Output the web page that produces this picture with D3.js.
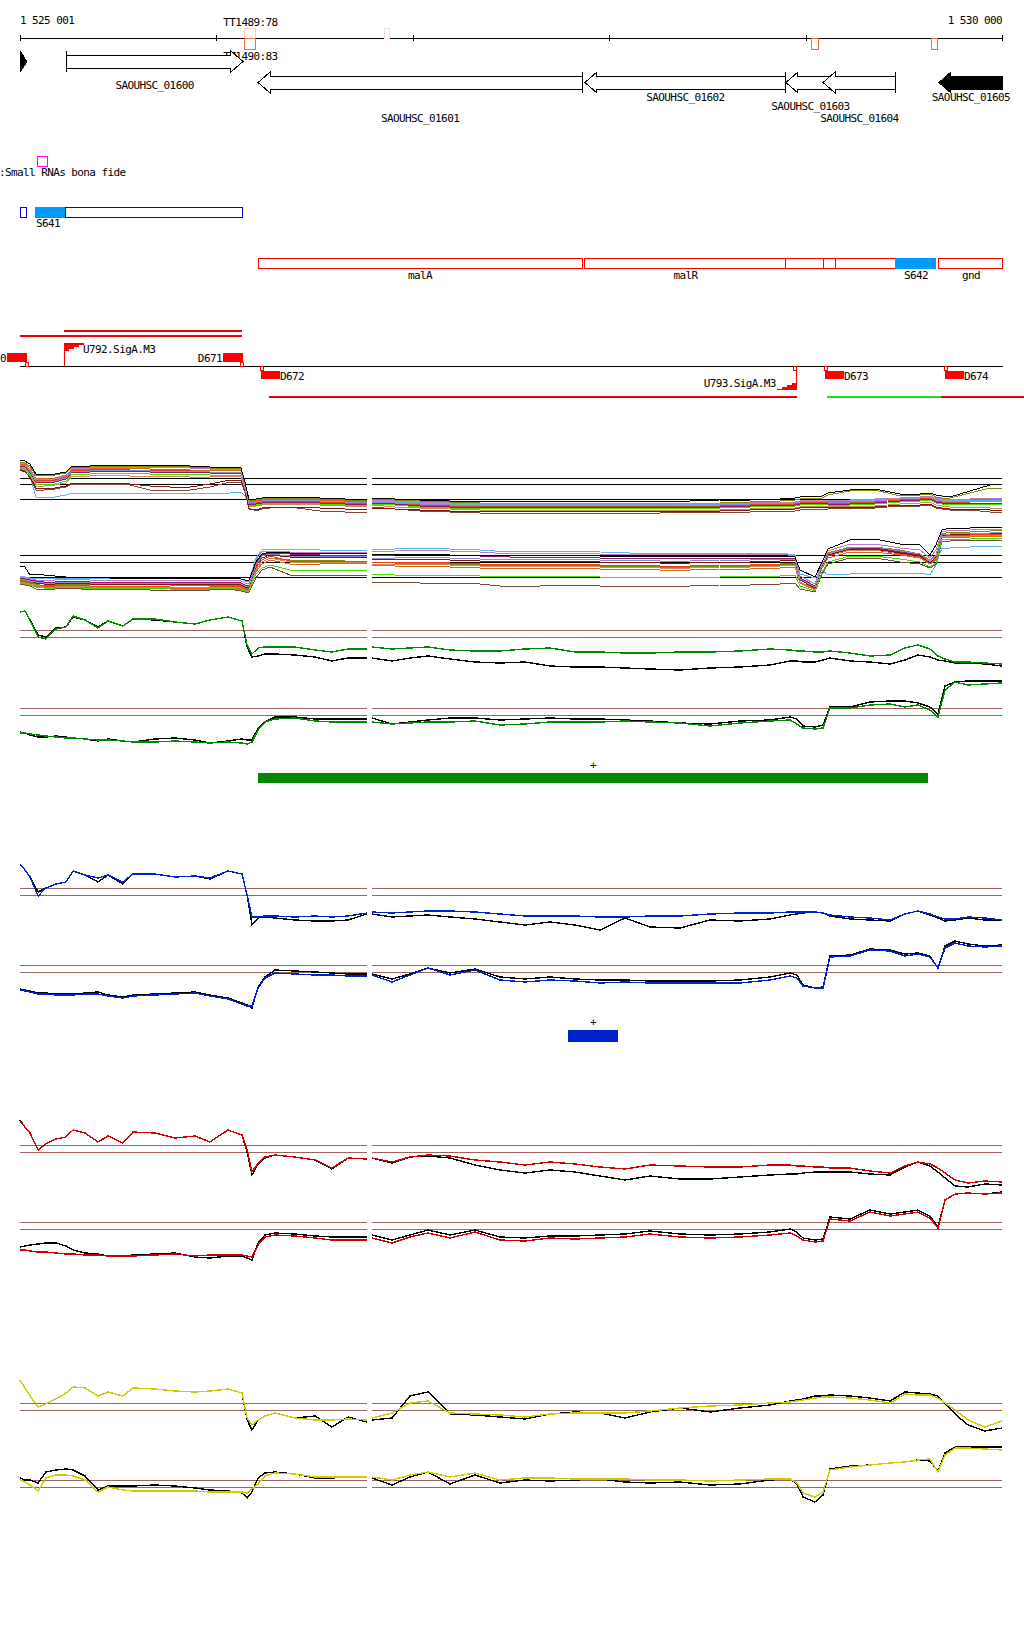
<!DOCTYPE html>
<html><head><meta charset="utf-8">
<script src="https://cdn.jsdelivr.net/npm/d3@7/dist/d3.min.js"></script>
<style>
html,body{margin:0;padding:0;background:#fff;}
svg{display:block;shape-rendering:crispEdges;}
text{font-family:"DejaVu Sans Mono","Liberation Mono",monospace;font-size:11px;letter-spacing:-0.6px;fill:#000;}
</style></head><body>
<svg id="chart" width="1024" height="1640"></svg>
<script>
// ---------------- DATA ----------------
const axisTicks = [1525001, 1526000, 1527000, 1528000, 1529000, 1530000];
const axisLabels = ["1 525 001", "1 530 000"];

const termStart = [1526146, 1526146, 1526859, 1529028, 1529643];
const termEnd   = [1526202, 1526202, 1526884, 1529068, 1529674];
const termSide  = ["up", "down", "up", "down", "down"];
const termScore = [78, 83, 70, 83, 83];
const termLabel = ["TT1489:78", "TT1490:83", "", "", ""];

const geneNames  = ["SAOUHSC_01600", "SAOUHSC_01601", "SAOUHSC_01602", "SAOUHSC_01603", "SAOUHSC_01604", "SAOUHSC_01605"];
const geneStart  = [1525236, 1526213, 1527877, 1528900, 1529089, 1529679];
const geneEnd    = [1526136, 1527862, 1528900, 1529150, 1529460, 1530005];
const geneStrand = ["+", "-", "-", "-", "-", "-"];
const geneRow    = [0, 1, 1, 1, 1, 1];
const geneLabelRow = [0, 2, 0, 1, 2, 0];
const geneFilled = [false, false, false, false, false, true];
const edgeGeneEnd = 1525036;

const srnaStart  = [1525006, 1525082, 1525235];
const srnaEnd    = [1525032, 1525225, 1526136];
const srnaName   = ["", "S641", ""];
const srnaFilled = [false, true, false];

const opStart  = [1526213, 1527877, 1528900, 1529089, 1529150, 1529460, 1529679];
const opEnd    = [1527862, 1528900, 1529089, 1529150, 1529460, 1529664, 1530005];
const opName   = ["malA", "malR", "", "", "", "S642", "gnd"];
const opFilled = [false, false, false, false, false, true, false];

const trStart = [1525225, 1525001, 1526268, 1529109, 1529689];
const trEnd   = [1526131, 1526131, 1528956, 1529689, 1530115];
const trLevel = [-2, -1, 1, 1, 1];
const trKind  = ["known", "known", "known", "novel", "known"];

const dNames  = ["D670", "D671", "D672", "D673", "D674"];
const dPos    = [1525037, 1526136, 1526223, 1529094, 1529705];
const dStrand = ["+", "+", "-", "-", "-"];

const uNames  = ["U792.SigA.M3", "U793.SigA.M3"];
const uPos    = [1525225, 1528956];
const uStrand = ["+", "-"];

const sectionBreak = 1526780;

const posMix = [1525001,1525026,1525052,1525082,1525123,1525179,1525235,1525266,1525357,1525459,1525561,1525663,1525765,1525866,1525968,1526070,1526126,1526146,1526167,1526202,1526233,1526274,1526375,1526528,1526655,1526767,
  1526793,1526910,1527037,1527190,1527343,1527495,1527648,1527801,1527954,1528106,1528259,1528412,1528564,1528717,1528870,1528946,1528972,1529048,1529084,1529114,1529226,1529354,1529481,1529583,1529633,1529664,1529694,1529735,1529837,1529939,1530000];

// multi-sample panel, upper strand (12 samples)
const mixTop01 = [60,59,56,46,46,46,48,54,54,55,55,54,55,54,53,53,52,38,20,21,22,23,23,22,21,20, 22,21,20,19,19,19,19,18,19,19,19,19,20,20,21,22,23,24,24,27,30,31,26,26,27,25,24,23,29,35,36];
const mixTop02 = [58,57,54,44,45,45,47,53,53,54,54,53,54,53,52,52,51,36,19,20,21,22,22,21,20,19, 21,20,19,18,17,16,17,16,17,17,16,17,17,18,19,20,21,22,22,25,29,30,24,25,26,23,22,22,27,32,32];
const mixTop03 = [56,55,50,42,42,42,45,51,51,52,52,51,51,50,50,50,49,34,18,19,20,21,21,20,19,18, 19,18,17,16,16,15,15,14,15,15,15,15,15,16,17,17,18,19,19,19,19,20,21,22,23,21,20,19,20,21,21];
const mixTop04 = [55,54,48,40,40,40,43,50,50,51,50,49,50,49,48,48,47,32,16,17,18,19,19,18,17,16, 18,17,15,14,14,13,14,13,14,14,14,14,14,15,16,16,17,18,18,17,17,18,20,21,22,19,18,17,18,19,19];
const mixTop05 = [54,53,47,38,38,38,41,48,48,49,49,48,48,48,47,47,46,30,15,16,17,18,18,17,16,15, 17,16,14,13,13,12,13,12,13,13,13,13,13,14,15,15,16,17,17,16,16,17,19,20,21,18,17,16,17,17,17];
const mixTop06 = [52,51,44,23,22,23,25,27,27,27,27,27,27,27,27,27,28,24,17,18,19,20,20,19,18,17, 19,18,17,16,16,16,16,15,16,16,16,16,16,17,18,18,19,20,20,20,20,20,22,23,24,21,20,20,20,20,20];
const mixTop07 = [51,49,42,30,30,31,33,36,36,36,35,30,30,30,33,38,38,28,12,9,11,12,13,9,8,8, 13,11,9,8,7,6,7,6,7,7,7,8,8,8,9,9,10,11,11,11,12,12,14,14,15,12,11,10,10,8,8];
const mixTop08 = [53,52,46,36,36,36,39,46,46,47,47,46,46,46,45,45,44,29,14,15,16,17,17,16,15,14, 16,15,13,12,12,11,12,11,12,12,12,12,12,13,14,14,15,16,16,15,15,16,18,19,20,17,16,15,16,16,16];
const mixTop09 = [57,56,52,40,41,41,44,52,52,53,53,52,53,52,51,51,50,33,20,21,22,23,23,22,21,20, 20,19,18,17,17,16,17,16,17,17,17,17,17,17,18,18,19,20,20,20,20,21,22,23,24,22,21,20,21,22,22];
const mixTop10 = [52,50,45,34,34,35,37,44,44,45,44,43,44,43,43,44,43,27,13,14,15,16,16,15,14,13, 15,13,12,11,10,10,10,9,10,10,10,10,10,11,12,12,13,14,14,14,14,14,16,17,18,15,14,13,13,12,12];
const mixTop11 = [50,48,43,32,32,32,34,37,37,37,36,34,33,33,36,40,40,29,11,10,12,13,13,12,11,10, 12,11,10,9,9,8,9,8,9,9,9,9,9,10,11,11,12,13,13,13,13,13,15,15,16,13,12,11,11,10,10];
const mixTop12 = [55,54,49,39,39,39,42,49,49,50,50,49,49,49,48,48,47,31,17,18,19,20,20,19,18,17, 18,17,16,15,15,14,15,14,15,15,15,15,15,16,17,17,18,19,19,18,18,19,21,22,23,20,19,18,19,19,19];

// multi-sample panel, lower strand
const mixBot01 = [34,33,25,26,25,24,23,23,23,22,22,22,22,22,22,22,21,20,20,38,46,48,47,47,47,46, 46,46,46,45,45,45,45,45,44,44,44,44,44,44,44,43,30,23,38,51,60,61,56,55,45,55,70,72,72,73,73];
const mixBot02 = [20,19,18,16,14,15,16,16,15,16,16,16,15,15,14,15,14,12,12,30,38,42,40,40,39,38, 38,37,37,36,35,34,35,35,34,34,33,33,34,34,35,36,20,12,35,47,53,53,50,46,40,45,66,68,68,69,70];
const mixBot03 = [18,17,16,14,13,12,14,14,12,13,13,12,12,12,12,13,11,10,10,28,36,40,36,36,37,36, 35,34,34,33,32,31,32,32,31,31,30,30,31,31,32,33,17,10,32,42,48,48,45,42,36,40,62,63,63,64,64];
const mixBot04 = [19,18,17,15,14,14,15,15,14,14,14,14,13,13,13,14,13,11,11,32,40,44,39,39,39,39, 38,38,38,37,36,35,36,36,35,35,34,34,35,35,36,37,18,11,33,44,50,50,46,43,37,41,63,65,65,66,66];
const mixBot05 = [22,21,20,19,18,18,19,19,18,18,18,18,18,18,18,18,17,15,15,36,45,47,46,45,45,45, 44,45,46,45,44,43,43,43,42,42,42,42,42,42,42,41,22,14,36,46,52,52,48,45,38,42,64,66,66,67,67];
const mixBot06 = [24,23,22,21,22,22,22,22,22,22,22,22,22,22,22,22,21,19,19,42,50,51,51,50,50,50, 50,51,52,51,50,48,49,49,48,47,47,47,47,47,47,45,26,22,30,25,26,27,27,27,25,35,52,52,53,54,54];
const mixBot07 = [16,15,14,11,10,11,12,12,10,11,11,10,10,10,10,11,9,8,8,22,30,33,25,24,25,25, 18,18,17,17,16,13,14,15,14,14,14,14,15,15,16,17,11,8,26,36,42,42,38,36,32,36,58,59,60,60,60];
const mixBot08 = [17,16,15,13,12,12,13,13,11,12,12,12,11,11,11,12,10,9,9,26,32,35,30,29,30,30, 26,25,25,25,24,23,24,24,23,23,23,23,23,24,24,25,14,9,28,38,44,44,41,38,33,37,60,61,61,62,62];
const mixBot09 = [23,22,21,20,20,20,21,21,20,20,20,20,20,20,20,20,19,17,17,40,48,49,48,48,48,48, 48,49,50,49,48,46,47,47,46,46,46,46,46,46,46,44,24,16,38,49,56,56,52,50,42,50,68,70,70,71,71];
const mixBot10 = [18,17,16,15,13,13,14,14,13,13,13,13,13,13,13,13,12,10,10,30,38,42,38,37,38,37, 36,36,36,35,34,33,34,34,33,33,32,32,33,33,34,35,18,10,33,45,50,50,47,44,38,42,63,64,64,65,65];
const mixBot11 = [21,20,19,17,16,16,17,17,16,16,16,16,16,16,16,16,15,13,13,34,42,45,43,43,43,42, 41,41,41,40,39,38,39,39,38,38,37,37,38,38,39,40,20,12,34,45,51,51,47,44,37,43,64,66,66,67,67];
const mixBot12 = [21,20,19,18,17,17,18,18,17,17,17,17,17,17,17,17,16,14,14,35,44,46,44,44,44,43, 42,42,43,42,41,40,41,41,40,40,39,39,40,40,41,41,21,13,35,46,52,53,49,46,39,44,65,66,67,67,68];

const mixTopThresholds = [42, 36, 21];
const mixBotThresholds = [45, 38, 23];

const posLines = [1525001,1525026,1525052,1525093,1525133,1525184,1525235,1525271,1525332,1525398,1525449,1525525,1525576,1525688,1525790,1525892,1525968,1526060,1526131,1526157,1526182,1526213,1526248,1526299,1526401,1526503,1526589,1526671,1526767,
  1526793,1526895,1526986,1527078,1527190,1527317,1527444,1527572,1527699,1527826,1527954,1528081,1528208,1528361,1528514,1528666,1528819,1528921,1528956,1528987,1529048,1529089,1529124,1529226,1529328,1529430,1529506,1529572,1529633,1529674,1529710,1529761,1529827,1529913,1530000];

const greenTopColor = [68,69,60,43,41,51,53,64,60,52,59,54,61,61,58,56,60,63,59,35,26,32,33,33,33,30,28,31,31, 33,31,32,33,30,29,29,31,32,28,28,27,27,28,28,29,31,30,29,29,28,28,29,27,24,25,32,35,31,24,21,18,18,17,16];
const greenTopBlack = [68,69,60,45,43,52,53,63,60,53,59,54,61,60,58,56,60,63,59,33,23,24,26,26,25,23,19,22,22, 22,19,22,24,21,18,17,18,14,13,13,12,11,10,12,13,15,19,19,18,18,20,22,19,18,16,20,25,23,20,19,17,17,16,14];
const greenBotColor = [27,27,26,25,24,23,22,22,21,20,20,19,18,18,19,18,17,18,17,16,18,30,38,41,42,39,38,38,38, 38,36,37,38,38,39,35,36,38,38,38,39,38,37,34,37,39,40,36,32,31,32,52,52,55,56,53,55,50,43,70,78,75,76,77];
const greenBotBlack = [28,27,25,23,23,24,23,22,21,19,21,19,18,21,22,20,17,19,21,20,20,32,38,43,43,41,41,41,41, 42,36,38,40,42,42,40,41,42,41,41,40,39,37,36,39,40,43,41,34,33,35,53,53,58,59,59,57,53,46,74,78,79,79,79];
const blueTopColor = [76,70,63,44,52,56,58,69,65,62,65,58,66,66,63,64,62,69,66,45,23,23,24,24,23,24,23,24,27, 28,27,28,29,29,28,26,24,24,24,23,23,24,24,26,27,27,28,28,28,28,27,25,23,22,20,26,29,26,23,21,21,23,22,20];
const blueTopBlack = [76,70,63,48,52,56,58,69,65,58,65,56,66,66,63,64,61,69,66,45,15,22,23,22,20,19,19,20,26, 26,23,24,25,23,21,18,15,18,15,10,22,13,12,20,19,21,25,26,27,28,27,24,21,20,19,26,29,25,22,19,20,22,20,20];
const blueBotColor = [30,29,28,26,26,25,25,25,26,26,24,22,24,25,26,27,24,21,16,14,14,32,42,47,46,45,45,44,44, 45,38,45,52,45,50,40,38,40,39,37,38,37,37,37,37,40,44,42,34,32,32,63,64,70,69,64,66,63,52,72,77,74,73,74];
const blueBotBlack = [31,30,29,27,27,26,26,26,27,28,25,23,25,26,27,28,25,22,17,15,12,33,43,50,49,48,47,46,46, 46,41,46,52,47,51,43,41,43,41,40,40,39,39,39,40,43,47,45,35,32,33,64,65,71,70,66,67,64,52,74,79,76,74,75];
const redTopColor = [79,73,67,50,56,61,63,70,67,58,64,57,68,67,62,64,58,70,65,50,28,37,43,45,43,40,32,42,41, 42,38,43,45,44,40,38,35,38,36,33,31,35,34,33,33,35,35,34,34,33,33,32,32,29,27,34,38,36,32,27,20,17,19,18];
const redTopBlack = [80,73,67,50,56,61,63,70,67,58,64,57,68,67,62,64,58,70,65,48,25,36,42,45,43,40,31,42,41, 42,37,43,44,42,35,30,27,30,28,24,20,24,21,21,23,25,26,26,27,28,28,28,28,26,25,33,38,34,28,22,14,13,16,15];
const redBotColor = [20,20,19,18,18,17,16,16,15,15,14,14,14,15,16,14,15,15,15,14,13,25,33,35,34,32,30,30,30, 32,27,33,37,32,38,30,29,32,31,32,33,36,33,32,33,35,37,34,30,28,29,51,49,58,54,56,58,52,42,70,76,77,76,77];
const redBotBlack = [23,24,25,26,27,27,24,20,17,16,14,14,15,16,17,13,12,14,14,12,10,27,35,37,36,34,33,33,33, 35,30,35,40,35,40,33,32,34,34,35,36,39,36,35,36,38,41,38,32,30,31,53,51,60,56,58,60,54,43,70,76,77,76,78];
const yellowTopColor = [60,52,44,33,36,41,47,53,52,44,48,44,52,51,49,48,49,51,47,22,15,20,24,27,22,20,20,21,20, 22,27,37,39,27,26,25,23,26,27,27,27,29,32,34,35,37,38,39,40,42,43,43,42,40,37,46,45,45,42,37,30,20,13,19];
const yellowTopBlack = [60,52,44,33,36,41,47,53,52,44,48,44,52,51,49,48,49,51,47,20,10,20,24,27,22,24,13,23,18, 20,22,44,48,26,25,23,21,26,28,27,22,28,32,28,32,35,39,40,41,44,44,45,44,42,39,48,47,46,44,36,26,15,9,12];
const yellowBotColor = [30,28,25,19,32,35,35,34,30,18,23,20,19,19,19,19,18,18,18,17,21,26,34,37,36,33,33,33,33, 33,30,35,38,33,37,30,32,32,31,31,31,30,30,29,30,31,31,27,17,13,18,40,43,45,47,48,50,51,38,55,62,62,61,60];
const yellowBotBlack = [32,30,30,27,38,40,41,40,34,20,24,24,24,25,24,22,20,19,17,12,18,32,37,38,36,32,32,33,33, 32,25,33,38,26,35,27,30,29,30,31,28,27,28,25,26,30,31,26,13,8,15,41,44,45,47,48,50,49,39,57,63,63,63,63];

const greenThresholds  = [[50, 43], [52, 45]];
const blueThresholds   = [[52, 45], [55, 48]];
const redThresholds    = [[55, 48], [48, 41]];
const yellowThresholds = [[37, 30], [30, 23]];

const barStart = [1526213, 1527791];
const barEnd   = [1529623, 1528045];
const barLabel = ["+", "+"];

// ---------------- DRAWING ----------------
const svg = d3.select("#chart");
const x = d3.scaleLinear().domain([axisTicks[0], axisTicks[axisTicks.length - 1]]).range([20, 1002]);

// top axis
const axisY = 38;
svg.append("g").attr("transform", `translate(0,${axisY})`)
  .call(d3.axisBottom(x).tickValues(axisTicks).tickSize(3).tickSizeOuter(0).tickFormat(""))
  .call(g => { g.select(".domain").attr("stroke", "#000"); g.selectAll(".tick line").attr("stroke", "#000"); });
svg.append("g").attr("transform", `translate(0,${axisY})`)
  .call(d3.axisTop(x).tickValues(axisTicks).tickSize(3).tickSizeOuter(0).tickFormat(""))
  .call(g => { g.select(".domain").remove(); g.selectAll(".tick line").attr("stroke", "#000"); });
svg.append("text").attr("x", x(axisTicks[0])).attr("y", 24).text(axisLabels[0]);
svg.append("text").attr("x", x(axisTicks[axisTicks.length - 1])).attr("y", 24).attr("text-anchor", "end").text(axisLabels[1]);

// terminators
const termColor = d3.scaleLinear().domain([70, 78, 83]).range(["#f8dcd4", "#f5cfc3", "#f06a4c"]);
termStart.forEach((s, i) => {
  const x0 = x(s), x1 = x(termEnd[i]);
  const up = termSide[i] === "up";
  svg.append("rect").attr("x", x0).attr("y", up ? 28 : 38).attr("width", x1 - x0).attr("height", up ? 10 : 11)
    .attr("fill", "none").attr("stroke", termColor(termScore[i])).attr("stroke-width", 1);
  if (termLabel[i]) svg.append("text").attr("x", (x0 + x1) / 2).attr("y", up ? 26 : 60).attr("text-anchor", "middle").text(termLabel[i]);
});

// genes
const rowY = [[55, 68], [76, 89]];
const labelY = [[89], [101, 110, 122]];
const head = 12;
geneNames.forEach((name, i) => {
  const s = x(geneStart[i]), e = Math.min(x(geneEnd[i]), 1003);
  const [yt, yb] = rowY[geneRow[i]];
  const ym = (yt + yb) / 2;
  let pts;
  if (geneStrand[i] === "+") {
    pts = [[s, yt], [e - head, yt], [e - head, yt - 4], [e, ym], [e - head, yb + 4], [e - head, yb], [s, yb]];
  } else {
    pts = [[e, yt], [s + head, yt], [s + head, yt - 4], [s, ym], [s + head, yb + 4], [s + head, yb], [e, yb]];
  }
  svg.append("path").attr("d", d3.line()(pts) + "Z")
    .attr("fill", geneFilled[i] ? "#000" : "#fff").attr("stroke", "#000").attr("stroke-width", 1);
  if (!geneFilled[i]) {
    const bx = geneStrand[i] === "+" ? s : e;
    svg.append("line").attr("x1", bx).attr("x2", bx).attr("y1", yt - 4).attr("y2", yb + 4).attr("stroke", "#000");
  }
  const ly = geneRow[i] === 0 ? labelY[0][0] : labelY[1][geneLabelRow[i]];
  svg.append("text").attr("x", (s + e) / 2).attr("y", ly).attr("text-anchor", "middle").text(name);
});
// partial gene at left edge
svg.append("path").attr("d", d3.line()([[20, 51], [x(edgeGeneEnd) - 0, 61.5], [20, 72]]) + "Z").attr("fill", "#000").attr("stroke", "#000");

// small RNA legend
svg.append("rect").attr("x", 37).attr("y", 156).attr("width", 10).attr("height", 10).attr("fill", "none").attr("stroke", "#ff00ff");
svg.append("text").attr("x", -1).attr("y", 176).text(":Small RNAs bona fide");

// small RNA row
srnaStart.forEach((s, i) => {
  const x0 = x(s), x1 = x(srnaEnd[i]);
  svg.append("rect").attr("x", x0).attr("y", 207).attr("width", x1 - x0).attr("height", 10)
    .attr("fill", srnaFilled[i] ? "#0099ff" : "none").attr("stroke", srnaFilled[i] ? "#0099ff" : "#0000e6");
  if (srnaName[i]) svg.append("text").attr("x", x0).attr("y", 227).text(srnaName[i]);
});

// operon / annotation row
opStart.forEach((s, i) => {
  const x0 = x(s), x1 = Math.min(x(opEnd[i]), 1003);
  svg.append("rect").attr("x", x0).attr("y", 258).attr("width", x1 - x0).attr("height", 10)
    .attr("fill", opFilled[i] ? "#0099ff" : "none").attr("stroke", opFilled[i] ? "#0099ff" : "#ff0000");
  if (opName[i]) svg.append("text").attr("x", (x0 + x1) / 2).attr("y", 279).attr("text-anchor", "middle").text(opName[i]);
});

// transcription track
const baseY = 366;
svg.append("line").attr("x1", 20).attr("x2", 1003).attr("y1", baseY).attr("y2", baseY).attr("stroke", "#000");
const trY = { "-2": 331, "-1": 336, "1": 397 };
trStart.forEach((s, i) => {
  svg.append("line").attr("x1", x(s)).attr("x2", Math.min(x(trEnd[i]), 1024)).attr("y1", trY[trLevel[i]]).attr("y2", trY[trLevel[i]])
    .attr("stroke", trKind[i] === "novel" ? "#22dd22" : "#ee0000").attr("stroke-width", 1.2);
});
dNames.forEach((n, i) => {
  const p = x(dPos[i]);
  if (dStrand[i] === "+") {
    svg.append("rect").attr("x", p - 20).attr("y", 353).attr("width", 20).attr("height", 9).attr("fill", "#ff0000");
    svg.append("rect").attr("x", p - 2).attr("y", 362).attr("width", 3).attr("height", 4).attr("fill", "#fff").attr("stroke", "#ff0000");
    svg.append("text").attr("x", p - 21).attr("y", 362).attr("text-anchor", "end").text(n);
  } else {
    svg.append("rect").attr("x", p).attr("y", 366).attr("width", 3).attr("height", 4).attr("fill", "#fff").attr("stroke", "#ff0000");
    svg.append("rect").attr("x", p + 1).attr("y", 371).attr("width", 19).attr("height", 8).attr("fill", "#ff0000");
    svg.append("text").attr("x", p + 20).attr("y", 380).text(n);
  }
});
uNames.forEach((n, i) => {
  const p = x(uPos[i]);
  if (uStrand[i] === "+") {
    svg.append("line").attr("x1", p).attr("x2", p).attr("y1", 343).attr("y2", baseY).attr("stroke", "#ff0000");
    const pts = [[p, 343], [p + 20, 343], [p + 20, 345], [p + 15, 345], [p + 15, 347], [p + 10, 347], [p + 10, 349], [p + 5, 349], [p + 5, 351], [p, 351]];
    svg.append("path").attr("d", d3.line()(pts) + "Z").attr("fill", "#ff0000");
    svg.append("text").attr("x", p + 19).attr("y", 353).text(n);
  } else {
    svg.append("line").attr("x1", p).attr("x2", p).attr("y1", baseY).attr("y2", 390).attr("stroke", "#ff0000");
    svg.append("rect").attr("x", p - 3).attr("y", 366).attr("width", 3).attr("height", 4).attr("fill", "#fff").attr("stroke", "#ff0000");
    const pts = [[p, 390], [p - 20, 390], [p - 20, 389], [p - 15, 389], [p - 15, 387], [p - 10, 387], [p - 10, 385], [p - 5, 385], [p - 5, 383], [p, 383]];
    svg.append("path").attr("d", d3.line()(pts) + "Z").attr("fill", "#ff0000");
    svg.append("text").attr("x", p - 21).attr("y", 387).attr("text-anchor", "end").text(n);
  }
});

// ---- signal panels ----
function split(pos, vals) {
  const L = [], R = [];
  pos.forEach((p, i) => (p < sectionBreak ? L : R).push([p, vals[i]]));
  return [L, R];
}
function drawTrack(base, pos, seriesList, thresholds, thrColor, width) {
  const y = d3.scaleLinear().domain([0, 100]).range([base, base - 100]);
  const secs = split(pos, pos.map(() => 0));
  thresholds.forEach(t => {
    secs.forEach(sec => {
      svg.append("line").attr("x1", x(sec[0][0])).attr("x2", x(sec[sec.length - 1][0]))
        .attr("y1", y(t)).attr("y2", y(t)).attr("stroke", thrColor).attr("stroke-width", 1);
    });
  });
  const line = d3.line().x(d => x(d[0])).y(d => y(d[1]));
  seriesList.forEach(s => {
    split(pos, s.values).forEach(sec => {
      svg.append("path").attr("d", line(sec)).attr("fill", "none").attr("stroke", s.color).attr("stroke-width", width);
    });
  });
}

const mixColors = ["#000000", "#8a8a00", "#d2691e", "#e8401c", "#8b1a6b", "#5cb4ec", "#7b4b3a", "#44dd00", "#c27cc2", "#cd8c52", "#8b1010", "#8c8cd0"];
const mixTop = [mixTop02, mixTop03, mixTop04, mixTop05, mixTop06, mixTop07, mixTop08, mixTop09, mixTop10, mixTop11, mixTop12, mixTop01];
const mixBot = [mixBot02, mixBot03, mixBot04, mixBot05, mixBot06, mixBot07, mixBot08, mixBot09, mixBot10, mixBot11, mixBot12, mixBot01];
const mixOrder = [1, 2, 3, 4, 5, 6, 7, 8, 9, 10, 11, 0];
drawTrack(520, posMix, mixTop.map((v, i) => ({ values: v, color: mixColors[mixOrder[i]] })), mixTopThresholds, "#000", 1);
drawTrack(600, posMix, mixBot.map((v, i) => ({ values: v, color: mixColors[mixOrder[i]] })), mixBotThresholds, "#000", 1);

const thrCol = "#a0625f";
const panels = [
  { bases: [680, 760], color: "#008800", top: [greenTopBlack, greenTopColor], bot: [greenBotBlack, greenBotColor], thr: greenThresholds },
  { bases: [940, 1020], color: "#0022cc", top: [blueTopBlack, blueTopColor], bot: [blueBotBlack, blueBotColor], thr: blueThresholds },
  { bases: [1200, 1270], color: "#cc0000", top: [redTopBlack, redTopColor], bot: [redBotBlack, redBotColor], thr: redThresholds },
  { bases: [1440, 1510], color: "#cccc00", top: [yellowTopBlack, yellowTopColor], bot: [yellowBotBlack, yellowBotColor], thr: yellowThresholds }
];
panels.forEach(pn => {
  drawTrack(pn.bases[0], posLines, [{ values: pn.top[0], color: "#000" }, { values: pn.top[1], color: pn.color }], pn.thr[0], thrCol, 1.4);
  drawTrack(pn.bases[1], posLines, [{ values: pn.bot[0], color: "#000" }, { values: pn.bot[1], color: pn.color }], pn.thr[1], thrCol, 1.4);
});

// segment bars
const barY = [773, 1030], barH = [10, 12], barColors = ["#008800", "#0022cc"];
barStart.forEach((s, i) => {
  const x0 = x(s), x1 = x(barEnd[i]);
  svg.append("rect").attr("x", x0).attr("y", barY[i]).attr("width", x1 - x0).attr("height", barH[i]).attr("fill", barColors[i]);
  svg.append("text").attr("x", (x0 + x1) / 2).attr("y", barY[i] - 4).attr("text-anchor", "middle").text(barLabel[i]);
});
</script></body></html>
